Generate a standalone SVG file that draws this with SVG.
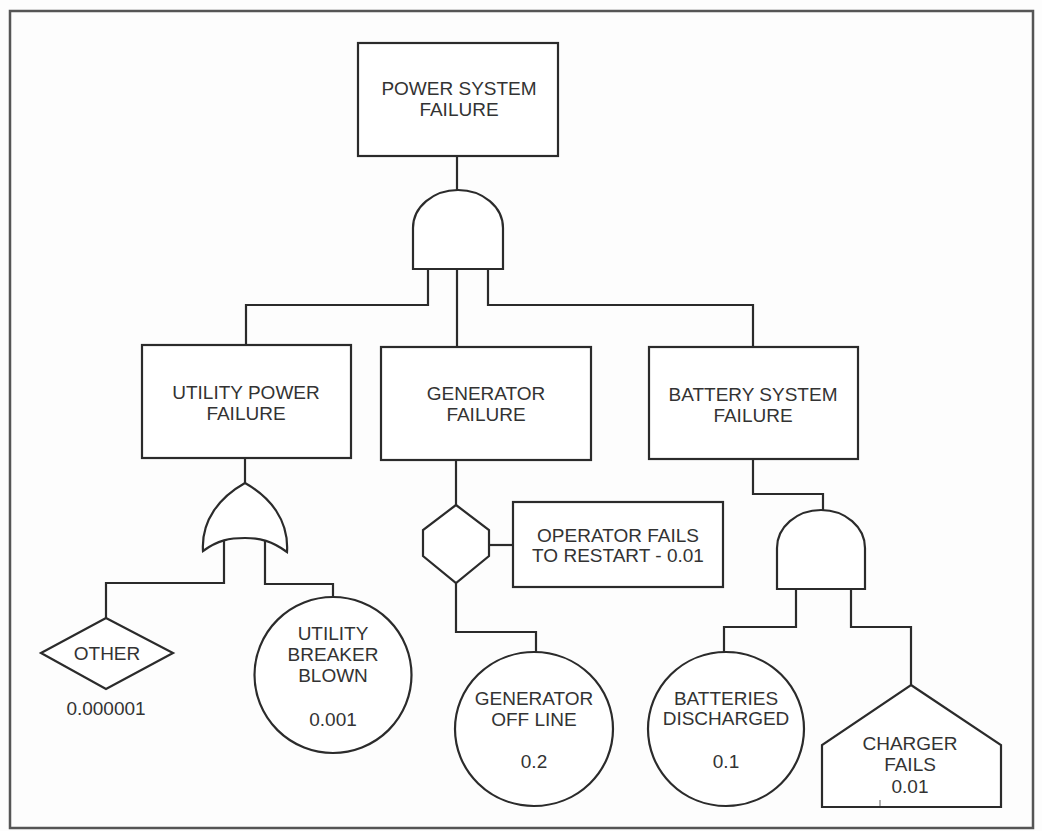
<svg xmlns="http://www.w3.org/2000/svg" width="1042" height="831" viewBox="0 0 1042 831">
  <style>
    .frame { fill: none; stroke: #555; stroke-width: 2.5; }
    .shape { fill: #fff; stroke: #2b2b2b; stroke-width: 2.2; }
    .wire { fill: none; stroke: #2b2b2b; stroke-width: 2.2; stroke-linejoin: miter; }
    text { font-family: "Liberation Sans", Arial, sans-serif; font-size: 19px; fill: #333; text-anchor: middle; }
  </style>
  <rect x="0" y="0" width="1042" height="831" fill="#fdfdfd"/>
  <rect class="frame" x="10" y="11" width="1023" height="817"/>

  <!-- connectors -->
  <g id="connectors">
    <path class="wire" d="M457,156 V190"/>
    <path class="wire" d="M428,269 V305 H246 V345"/>
    <path class="wire" d="M457,269 V347"/>
    <path class="wire" d="M488,269 V305 H753 V347"/>
    <path class="wire" d="M245,458 V483"/>
    <path class="wire" d="M224,540 V583 H106 V618"/>
    <path class="wire" d="M265,540 V584 H333 V597"/>
    <path class="wire" d="M456,460 V505"/>
    <path class="wire" d="M489,545 H513"/>
    <path class="wire" d="M456,583 V632 H536 V652"/>
    <path class="wire" d="M753,459 V494 H823 V510"/>
    <path class="wire" d="M796,589 V627 H724 V652"/>
    <path class="wire" d="M851,589 V627 H911 V685"/>
  </g>

  <!-- top event -->
  <g id="power-system-failure">
    <rect class="shape" x="358" y="43" width="200" height="113"/>
    <text x="459" y="95">POWER SYSTEM</text>
    <text x="459" y="116">FAILURE</text>
  </g>

  <!-- top AND gate -->
  <g id="and-top">
    <path class="shape" d="M413,269 V228 A45,38 0 0 1 503,228 V269 Z"/>
  </g>

  <g id="utility-power-failure">
    <rect class="shape" x="142" y="345" width="209" height="113"/>
    <text x="246" y="399">UTILITY POWER</text>
    <text x="246" y="420">FAILURE</text>
  </g>

  <g id="generator-failure">
    <rect class="shape" x="381" y="347" width="210" height="113"/>
    <text x="486" y="400">GENERATOR</text>
    <text x="486" y="421">FAILURE</text>
  </g>

  <g id="battery-system-failure">
    <rect class="shape" x="649" y="347" width="209" height="112"/>
    <text x="753" y="401">BATTERY SYSTEM</text>
    <text x="753" y="422">FAILURE</text>
  </g>

  <!-- OR gate under utility power -->
  <g id="or-utility">
    <path class="shape" d="M203,551 C201,520 220,497 245,483 C270,497 289,520 287,552 C272,541 260,538 245,538 C230,538 218,540 203,551 Z"/>
  </g>

  <g id="other">
    <path class="shape" d="M41,653 L106,618 L173,653 L106,689 Z"/>
    <text x="107" y="660">OTHER</text>
    <text x="106" y="715">0.000001</text>
  </g>

  <g id="utility-breaker-blown">
    <ellipse class="shape" cx="333" cy="675" rx="78.5" ry="78"/>
    <text x="333" y="640">UTILITY</text>
    <text x="333" y="661">BREAKER</text>
    <text x="333" y="682">BLOWN</text>
    <text x="333" y="726">0.001</text>
  </g>

  <!-- inhibit gate with its condition -->
  <g id="inhibit-generator">
    <path class="shape" d="M456,505 L489,530 V556 L456,583 L423,556 V530 Z"/>
  </g>

  <g id="operator-fails">
    <rect class="shape" x="513" y="502" width="210" height="85"/>
    <text x="618" y="542">OPERATOR FAILS</text>
    <text x="618" y="562">TO RESTART - 0.01</text>
  </g>

  <g id="generator-off-line">
    <ellipse class="shape" cx="534" cy="729" rx="79" ry="77"/>
    <text x="534" y="705">GENERATOR</text>
    <text x="534" y="726">OFF LINE</text>
    <text x="534" y="768">0.2</text>
  </g>

  <!-- AND gate under battery system -->
  <g id="and-battery">
    <path class="shape" d="M777,589 V548 A44,38 0 0 1 865,548 V589 Z"/>
  </g>

  <g id="batteries-discharged">
    <ellipse class="shape" cx="726" cy="729" rx="78" ry="77"/>
    <text x="726" y="705">BATTERIES</text>
    <text x="726" y="725">DISCHARGED</text>
    <text x="726" y="768">0.1</text>
  </g>

  <g id="charger-fails">
    <path class="shape" d="M911,685 L1001,745 V807 H822 V745 Z"/>
    <path d="M880,800 V806" stroke="#999" stroke-width="1.5"/>
    <text x="910" y="750">CHARGER</text>
    <text x="910" y="771">FAILS</text>
    <text x="910" y="793">0.01</text>
  </g>
</svg>
